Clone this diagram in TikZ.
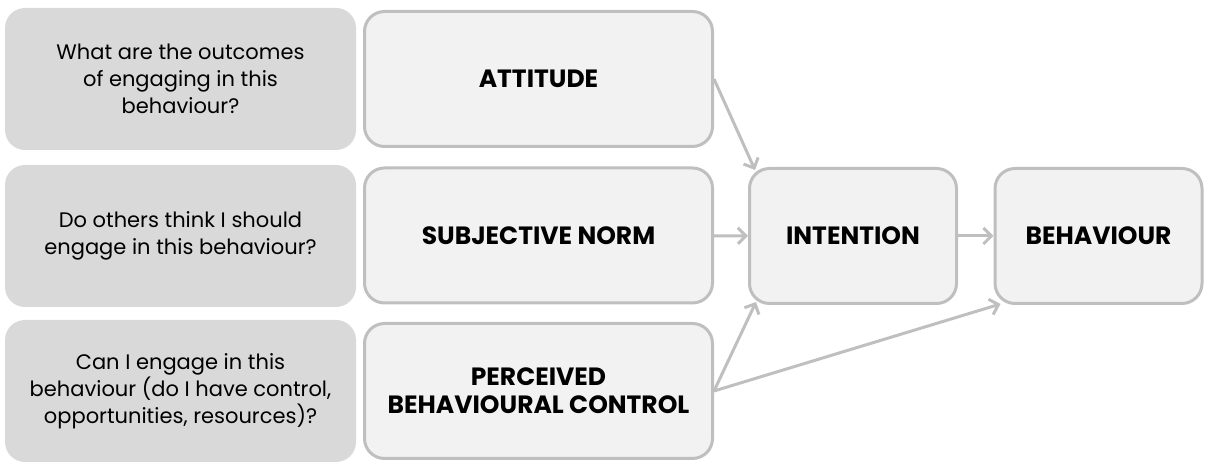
\documentclass[tikz,border=0pt]{standalone}
\usepackage{fontspec}
\setmainfont{Poppins}
\usetikzlibrary{arrows.meta,positioning}
\definecolor{qgrey}{HTML}{D9D9D9}
\definecolor{boxfill}{HTML}{F2F2F2}
\definecolor{edge}{HTML}{BFBFBF}
\tikzset{
  question/.style={fill=qgrey, rounded corners=10pt, align=center, minimum width=175.5pt, minimum height=71pt, inner sep=2pt, font=\fontsize{10.5}{13.5}\selectfont},
  construct/.style={draw=edge, fill=boxfill, line width=1.5pt, rounded corners=10pt, align=center, minimum width=174pt, minimum height=67.5pt, inner sep=2pt, font=\fontsize{12.5}{14}\selectfont\bfseries},
  smallconstruct/.style={construct, minimum width=103.5pt},
  arrow/.style={-{Straight Barb[length=4pt,width=8pt]}, draw=edge, line width=1.5pt}
}
\begin{document}
\begin{tikzpicture}[x=0.5pt, y=-0.5pt]
\useasboundingbox (0,0) rectangle (1212,474);
\node[question] (q1) at (180.5,79) {What are the outcomes\\of engaging in this\\behaviour?};
\node[question] (q2) at (180.5,236) {Do others think I should\\engage in this behaviour?};
\node[question] (q3) at (180.5,391) {Can I engage in this\\behaviour (do I have control,\\opportunities, resources)?};
\node[construct] (att) at (538.5,79) {ATTITUDE};
\node[construct] (norm) at (538.5,235.5) {SUBJECTIVE NORM};
\node[construct] (pbc) at (538.5,391) {PERCEIVED\\BEHAVIOURAL CONTROL};
\node[smallconstruct] (int) at (853,236) {INTENTION};
\node[smallconstruct] (beh) at (1098.5,236) {BEHAVIOUR};
\draw[arrow] (att.east) -- ([shift={(7,3)}]int.north west);
\draw[arrow] (norm) -- (int);
\draw[arrow] (pbc.east) -- ([shift={(8,-3)}]int.south west);
\draw[arrow] (pbc.east) -- ([shift={(7,-1)}]beh.south west);
\draw[arrow] (int) -- (beh);
\end{tikzpicture}
\end{document}
